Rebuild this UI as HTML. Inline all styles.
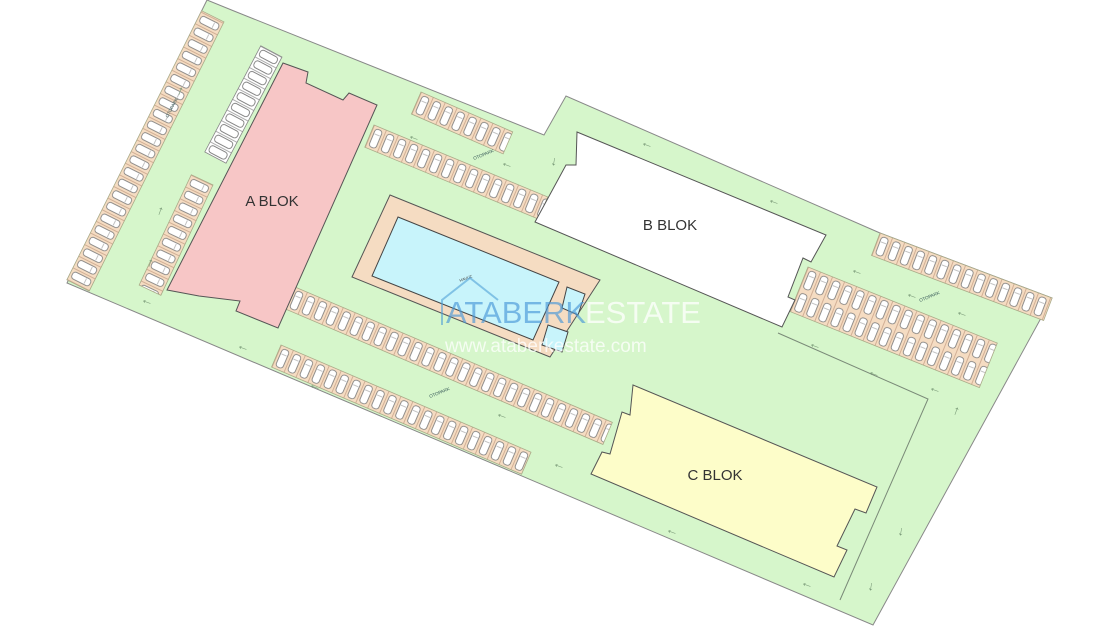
<!DOCTYPE html>
<html><head><meta charset="utf-8"><style>
html,body{margin:0;padding:0;background:#fff;}
svg{display:block;font-family:"Liberation Sans",sans-serif;}
</style></head><body>
<svg width="1120" height="630" viewBox="0 0 1120 630" xmlns="http://www.w3.org/2000/svg">
<defs>
<pattern id="pk" patternUnits="userSpaceOnUse" width="13" height="24" x="0" y="0">
 <rect width="13" height="24" fill="#f5dcc2"/>
 <line x1="0.5" y1="0" x2="0.5" y2="24" stroke="#c9a48a" stroke-width="0.8"/>
 <rect x="3" y="2.5" width="7.5" height="19" rx="3" fill="#fff" stroke="#777" stroke-width="0.8"/>
 <line x1="4" y1="8" x2="9.5" y2="8" stroke="#999" stroke-width="0.6"/>
</pattern>
<pattern id="pk25" patternUnits="userSpaceOnUse" width="13" height="25" x="0" y="0">
 <rect width="13" height="25" fill="#f5dcc2"/>
 <line x1="0.5" y1="0" x2="0.5" y2="25" stroke="#c9a48a" stroke-width="0.8"/>
 <rect x="3" y="2.5" width="7.5" height="20" rx="3" fill="#fff" stroke="#777" stroke-width="0.8"/>
 <line x1="4" y1="8" x2="9.5" y2="8" stroke="#999" stroke-width="0.6"/>
</pattern>
<pattern id="pkw" patternUnits="userSpaceOnUse" width="12" height="24" x="0" y="0">
 <rect width="12" height="24" fill="#fff"/>
 <line x1="0.5" y1="0" x2="0.5" y2="24" stroke="#999" stroke-width="0.8"/>
 <rect x="2.5" y="2.5" width="7.5" height="19" rx="3" fill="#fff" stroke="#666" stroke-width="0.8"/>
</pattern>
</defs>

<!-- site -->
<polygon points="207,0 234,11 544,135 566,96 880,233 1052,298 873,625 67,283" fill="#d6f6cb" stroke="#888" stroke-width="1"/>

<!-- inner lines -->
<polyline points="778,333 928,399 840,600" fill="none" stroke="#7a8a78" stroke-width="1"/>

<!-- parking strips -->
<g transform="translate(207,0) rotate(116.6)"><rect x="12" y="-25" width="301" height="25" fill="url(#pk25)" stroke="#aa8" stroke-width="0.8"/></g>
<g transform="translate(282,57) rotate(117.8)"><rect x="0" y="0" width="120" height="24" fill="url(#pkw)" stroke="#888" stroke-width="0.8"/></g>
<g transform="translate(213,185) rotate(115.3)"><rect x="0" y="0" width="122" height="24" fill="url(#pk)" stroke="#aa8" stroke-width="0.8"/></g>
<g transform="translate(421,92) rotate(23.5)"><rect x="0" y="0" width="100" height="24" fill="url(#pk)" stroke="#aa8" stroke-width="0.8"/></g>
<g transform="translate(374,125) rotate(22.5)"><rect x="0" y="0" width="188" height="24" fill="url(#pk)" stroke="#aa8" stroke-width="0.8"/></g>
<g transform="translate(295,287) rotate(23.1)"><rect x="0" y="0" width="345" height="24" fill="url(#pk)" stroke="#aa8" stroke-width="0.8"/></g>
<g transform="translate(281,345) rotate(23.2)"><rect x="0" y="0" width="272" height="24" fill="url(#pk)" stroke="#aa8" stroke-width="0.8"/></g>
<g transform="translate(880,233) rotate(20.7)"><rect x="0" y="0" width="184" height="24" fill="url(#pk)" stroke="#aa8" stroke-width="0.8"/></g>
<g transform="translate(808,267) rotate(21.9)"><rect x="0" y="0" width="204" height="48" fill="url(#pk)" stroke="#aa8" stroke-width="0.8"/></g>

<!-- A BLOK -->
<polygon points="283,63 308,72 306,83 343,100 349,93 377,105 278,328 236,311 240,301 199,296 167,290" fill="#f7c6c6" stroke="#555" stroke-width="1"/>
<text x="272" y="206" font-size="15" text-anchor="middle" fill="#333">A BLOK</text>

<!-- B BLOK -->
<polygon points="577,132 826,235 811,262 803,258 788,297 795,300 782,327 535,222 566,165 576,165" fill="#ffffff" stroke="#555" stroke-width="1"/>
<text x="670" y="230" font-size="15" text-anchor="middle" fill="#333">B BLOK</text>

<!-- C BLOK -->
<polygon points="633,385 877,487 866,513 855,509 837,546 847,550 834,577 591,474 602,452 610,454 622,412 630,415" fill="#fdfdc9" stroke="#555" stroke-width="1"/>
<text x="715" y="480" font-size="15" text-anchor="middle" fill="#333">C BLOK</text>

<!-- pool -->
<polygon points="390,195 600,280 550,357 352,277" fill="#f5dcc2" stroke="#555" stroke-width="1"/>
<polygon points="398,217 559,282 533,340 372,276" fill="#c8f4fb" stroke="#444" stroke-width="1"/>
<polygon points="567,287 585,294 578,315 562,308" fill="#c8f4fb" stroke="#444" stroke-width="1"/>
<polygon points="548,325 568,332 562,352 542,345" fill="#c8f4fb" stroke="#444" stroke-width="1"/>
<text x="460" y="282" font-size="4" fill="#444" transform="rotate(-20 460 282)">HAVUZ</text>

<!-- labels -->
<g font-size="4.5" fill="#355">
<text x="168" y="118" transform="rotate(-62 168 118)">OTOPARK</text>
<text x="474" y="160" transform="rotate(-22 474 160)">OTOPARK</text>
<text x="920" y="302" transform="rotate(-22 920 302)">OTOPARK</text>
<text x="430" y="398" transform="rotate(-22 430 398)">OTOPARK</text>
</g>

<!-- arrows -->
<g font-size="13" fill="#7a9a78">
<text x="150" y="270" transform="rotate(-70 150 270)">→</text>
<text x="160" y="218" transform="rotate(-70 160 218)">→</text>
<text x="180" y="98" transform="rotate(-70 180 98)">→</text>
<text x="140" y="302" transform="rotate(20 140 302)">←</text>
<text x="236" y="348" transform="rotate(20 236 348)">←</text>
<text x="407" y="138" transform="rotate(20 407 138)">←</text>
<text x="500" y="165" transform="rotate(20 500 165)">←</text>
<text x="640" y="145" transform="rotate(20 640 145)">←</text>
<text x="767" y="202" transform="rotate(20 767 202)">←</text>
<text x="850" y="272" transform="rotate(20 850 272)">←</text>
<text x="905" y="296" transform="rotate(20 905 296)">←</text>
<text x="955" y="314" transform="rotate(20 955 314)">←</text>
<text x="808" y="346" transform="rotate(20 808 346)">←</text>
<text x="867" y="374" transform="rotate(20 867 374)">←</text>
<text x="928" y="390" transform="rotate(20 928 390)">←</text>
<text x="308" y="387" transform="rotate(20 308 387)">←</text>
<text x="495" y="416" transform="rotate(20 495 416)">←</text>
<text x="552" y="466" transform="rotate(20 552 466)">←</text>
<text x="665" y="532" transform="rotate(20 665 532)">←</text>
<text x="800" y="585" transform="rotate(20 800 585)">←</text>
<text x="956" y="418" transform="rotate(-70 956 418)">→</text>
<text x="900" y="525" transform="rotate(100 900 525)">→</text>
<text x="870" y="580" transform="rotate(100 870 580)">→</text>
<text x="553" y="155" transform="rotate(100 553 155)">→</text>
</g>

<!-- watermark -->
<polyline points="442,325 442,300 470,278 498,300" fill="none" stroke="rgba(80,160,215,0.6)" stroke-width="2"/>
<text x="446" y="323" font-size="31" fill="rgba(70,150,215,0.65)">ATABERK</text>
<text x="585" y="323" font-size="31" fill="rgba(255,255,255,0.75)">ESTATE</text>
<text x="445" y="352" font-size="19" fill="rgba(255,255,255,0.75)">www.ataberkestate.com</text>
</svg>
</body></html>
